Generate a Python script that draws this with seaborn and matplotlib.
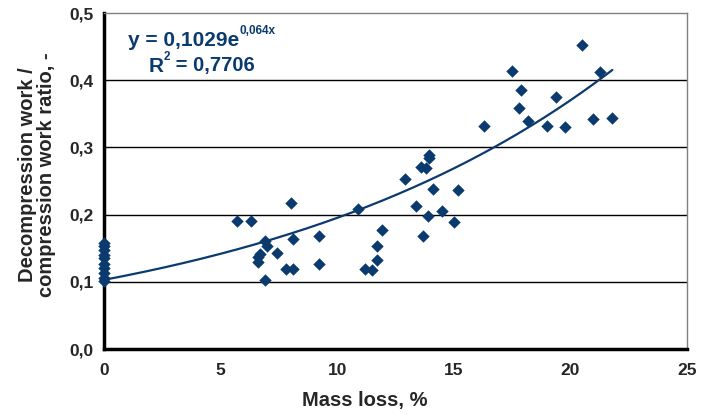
import numpy as np
import pandas as pd
import matplotlib
matplotlib.use("Agg")
import matplotlib.pyplot as plt
import seaborn as sns

mass_loss = [0, 0, 0, 0, 0, 0, 0, 0, 0, 0,
             5.7, 6.3, 8.0, 6.9, 7.0, 6.7, 6.6, 6.6, 6.9, 7.4, 8.1, 7.8, 8.1,
             9.2, 9.2, 10.9, 11.9, 11.7, 11.7, 11.2, 11.5,
             12.9, 13.4, 13.6, 13.8, 13.95, 13.95, 13.9, 14.1, 13.7, 14.5, 15.0, 15.2,
             16.3, 17.5, 17.9, 17.8, 18.2, 19.4, 19.0, 19.75, 21.25, 20.95, 21.8, 20.5]
ratio = [0.158, 0.153, 0.148, 0.140, 0.135, 0.127, 0.120, 0.113, 0.106, 0.101,
         0.190, 0.191, 0.217, 0.161, 0.153, 0.141, 0.137, 0.129, 0.103, 0.143, 0.164, 0.119, 0.119,
         0.168, 0.126, 0.208, 0.177, 0.153, 0.132, 0.119, 0.118,
         0.253, 0.213, 0.271, 0.269, 0.289, 0.284, 0.198, 0.238, 0.168, 0.205, 0.189, 0.237,
         0.332, 0.414, 0.385, 0.359, 0.339, 0.375, 0.332, 0.330, 0.412, 0.342, 0.344, 0.452]

fit_a = 0.1029
fit_b = 0.064
fit_x_max = 21.8

x_ticks = [0, 5, 10, 15, 20, 25]
y_ticks = [0.0, 0.1, 0.2, 0.3, 0.4, 0.5]
y_tick_labels = ["0,0", "0,1", "0,2", "0,3", "0,4", "0,5"]

sns.set_style("white")
plt.rcParams['font.family'] = ['Liberation Sans', 'DejaVu Sans']

color = "#0a3a6e"
df = pd.DataFrame({"mass": mass_loss, "ratio": ratio})

fig = plt.figure(figsize=(7.02, 4.19), dpi=100)
ax = fig.add_axes([104/702, 1-349/419, (687-104)/702, (349-13)/419])

for yv in y_ticks[1:5]:
    ax.axhline(yv, color="black", lw=1.0, zorder=1)

xs = np.linspace(0, fit_x_max, 200)
fit_df = pd.DataFrame({"x": xs, "y": fit_a*np.exp(fit_b*xs)})
sns.lineplot(data=fit_df, x="x", y="y", ax=ax, color=color, lw=1.6, zorder=3)

sns.scatterplot(data=df, x="mass", y="ratio", ax=ax, marker="D", s=40,
                color=color, edgecolor=color, linewidth=0, zorder=4, clip_on=False)

ax.set_xlim(0, 25)
ax.set_ylim(0, 0.5)
ax.set_xticks(x_ticks)
ax.set_xticklabels([str(t) for t in x_ticks], fontweight="bold", fontsize=12.5)
ax.set_yticks(y_ticks)
ax.set_yticklabels(y_tick_labels, fontweight="bold", fontsize=12.5)

for side in ["left", "bottom"]:
    ax.spines[side].set_color("black")
    ax.spines[side].set_linewidth(2.5)
for side in ["top", "right"]:
    ax.spines[side].set_color("#808080")
    ax.spines[side].set_linewidth(1.0)

ax.tick_params(axis="x", direction="out", length=4, width=2, color="black", pad=6)
ax.tick_params(axis="y", direction="inout", length=7, width=2, color="black", pad=4)

ax.set_xlabel("Mass loss, %", fontweight="bold", fontsize=14.5)
ax.xaxis.set_label_coords(0.448, -0.125)
ax.set_ylabel("Decompression work /\ncompression work ratio, -", fontweight="bold",
              fontsize=14.5, linespacing=1.0)
ax.yaxis.set_label_coords(-0.082, 0.52)

t1 = ax.text(128/702, 1-40/419, "y = 0,1029e", transform=fig.transFigure,
             fontsize=15, fontweight="bold", color=color, ha="left", va="center")
ax.annotate("0,064x", xy=(1.0, 0.68), xycoords=t1, fontsize=8.5, fontweight="bold",
            color=color, ha="left", va="bottom")
t2 = ax.text(149/702, 1-66/419, "R", transform=fig.transFigure,
             fontsize=15, fontweight="bold", color=color, ha="left", va="center")
t3 = ax.annotate("2", xy=(1.0, 0.68), xycoords=t2, fontsize=8.5, fontweight="bold",
                 color=color, ha="left", va="bottom")
ax.annotate(" = 0,7706", xy=(1.0, 0.0), xycoords=(t3, t2), fontsize=14.5, fontweight="bold",
            color=color, ha="left", va="bottom")

fig.savefig("out.png", dpi=100)
